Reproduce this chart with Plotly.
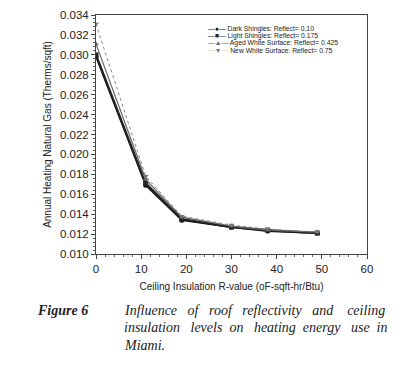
import plotly.graph_objects as go

r_values = [0, 11, 19, 30, 38, 49]
dark = [0.0298, 0.0169, 0.0134, 0.0127, 0.0123, 0.0121]
light = [0.0300, 0.0171, 0.0135, 0.0127, 0.0124, 0.0121]
aged = [0.0311, 0.0175, 0.0137, 0.0128, 0.0124, 0.0122]
new_white = [0.0331, 0.0178, 0.0138, 0.0129, 0.0125, 0.0122]
names = ["Dark Shingles: Reflect= 0.10", "Light Shingles: Reflect= 0.175",
         "Aged White Surface: Reflect= 0.425", "New White Surface: Reflect= 0.75"]

# page has an 8px body margin; figure is sized so that page coords match the reference
OFF = 8
W, H = 400 - OFF, 370 - OFF
L, R, T, B = 96 - OFF, 33, 15 - OFF, 116
PW, PH = W - L - R, H - T - B


def px(x):
    return (x - OFF - L) / PW


def py(y):
    return (H - B - (y - OFF)) / PH


fig = go.Figure()
styles = [
    dict(color="#111", width=1.6, dash="solid", sym="circle", ms=5, glyph="—●—"),
    dict(color="#222", width=2.2, dash="solid", sym="square", ms=5, glyph="—■—"),
    dict(color="#666", width=1.2, dash="solid", sym="triangle-up", ms=5, glyph="—▲—"),
    dict(color="#777", width=0.9, dash="dot", sym="triangle-down", ms=5, glyph="···▼···"),
]
for n, ys, s in zip(names, [dark, light, aged, new_white], styles):
    fig.add_trace(go.Scatter(x=r_values, y=ys, name=n, mode="lines+markers", showlegend=False,
                             line=dict(color=s["color"], width=s["width"], dash=s["dash"]),
                             marker=dict(symbol=s["sym"], size=s["ms"], color=s["color"])))

sans = "Liberation Sans, Arial"
tickfont = dict(family=sans, size=11.5, color="#222")
fig.update_layout(
    width=W, height=H, paper_bgcolor="white", plot_bgcolor="white",
    margin=dict(l=L, r=R, t=T, b=B),
    font=dict(family=sans, size=10, color="#222"),
    xaxis=dict(range=[0, 60], dtick=10, tickformat="d", showgrid=False, zeroline=False, automargin=False,
               showline=True, linecolor="#444", linewidth=1, mirror=True,
               ticks="outside", ticklen=4, tickcolor="#444", tickfont=tickfont,
               minor=dict(dtick=2, ticks="outside", ticklen=2, tickcolor="#666"),
               title=dict(text="Ceiling Insulation R-value (oF-sqft-hr/Btu)",
                          font=dict(size=10, family=sans, color="#222"), standoff=9)),
    yaxis=dict(range=[0.010, 0.034], dtick=0.002, tickformat=".3f", showgrid=False, zeroline=False,
               automargin=False,
               showline=True, linecolor="#444", linewidth=1, mirror=True,
               ticks="outside", ticklen=4, tickcolor="#444", tickfont=tickfont,
               minor=dict(dtick=0.0004, ticks="outside", ticklen=2, tickcolor="#666"),
               title=dict(text="Annual Heating Natural Gas (Therms/sqft)",
                          font=dict(size=10, family=sans, color="#222"), standoff=6)),
)

# legend key
for i, (n, s) in enumerate(zip(names, styles)):
    fig.add_annotation(x=px(206), y=py(29 + i * 7), xref="paper", yref="paper",
                       text=f"<span style='color:{s['color']}'>{s['glyph']}</span> {n}",
                       showarrow=False, xanchor="left", yanchor="middle",
                       font=dict(family=sans, size=6.8, color="#222"))

serif = "Liberation Serif, Times New Roman"
fig.add_annotation(x=px(35), y=py(310), xref="paper", yref="paper", text="<b><i>Figure 6</i></b>",
                   showarrow=False, xanchor="left", yanchor="middle",
                   font=dict(family=serif, size=14, color="#222"))
lines = ["<i>Influence &nbsp; of &nbsp; roof &nbsp; reflectivity &nbsp; and &nbsp;&nbsp; ceiling</i>",
         "<i>insulation &nbsp; levels &nbsp;on &nbsp; heating &nbsp;energy &nbsp; use &nbsp;in</i>",
         "<i>Miami.</i>"]
for i, t in enumerate(lines):
    fig.add_annotation(x=px(122), y=py(310 + i * 17.5), xref="paper", yref="paper", text=t,
                       showarrow=False, xanchor="left", yanchor="middle",
                       font=dict(family=serif, size=14, color="#222"))

fig.write_html("out.html")
